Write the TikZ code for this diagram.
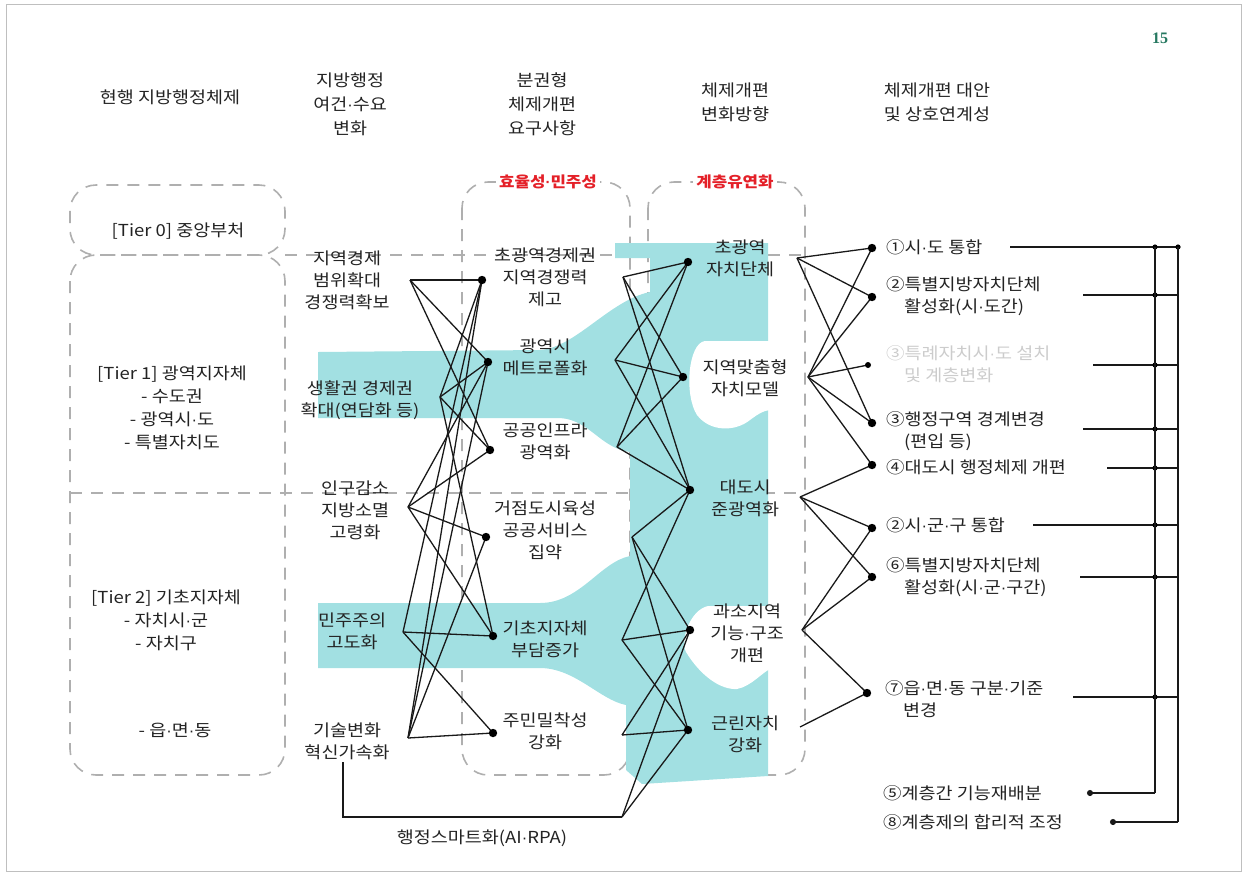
\documentclass[tikz,border=0pt]{standalone}
\usepackage{fontspec}
\setmainfont{Noto Sans CJK KR}[FakeStretch=1.12]
\newfontfamily\pagefont{Liberation Serif}
\newfontfamily\dotfont{Liberation Sans}
\newcommand\md{{\dotfont\textperiodcentered}}
\usetikzlibrary{arrows.meta}
\definecolor{bandcyan}{RGB}{162,224,226}
\definecolor{boxgray}{RGB}{175,175,175}
\definecolor{txtgray}{RGB}{35,35,35}
\definecolor{pagegreen}{RGB}{38,120,96}
\definecolor{keyred}{RGB}{228,32,40}

\begin{document}
\begin{tikzpicture}[x=1pt,y=-1pt,
  lbl/.style={align=center,inner sep=0pt,text=txtgray,font=\fontsize{16.5}{22}\selectfont},
  alt/.style={align=left,anchor=west,inner sep=0pt,text=txtgray,font=\fontsize{16.5}{22}\selectfont},
  hdr/.style={lbl,font=\fontsize{16.5}{24}\selectfont},
  keylbl/.style={fill=white,inner sep=3pt,text=keyred,font=\fontsize{15}{18}\selectfont\bfseries},
  link/.style={line width=1.3pt,black!90},
  dashbox/.style={draw=boxgray,line width=1.6pt,dash pattern=on 12pt off 9pt,rounded corners=26pt},
  dashline/.style={draw=boxgray,line width=1.6pt,dash pattern=on 12pt off 9pt}]
\useasboundingbox (0,0) rectangle (1247,876);
\draw[gray!50,line width=0.8pt] (6,4) rectangle (1241,871);

% page number
\node[font=\pagefont\bfseries\fontsize{16}{18}\selectfont,text=pagegreen] (pg) at (1160,38) {15};

% dashed frames and tier lines
\draw[dashbox] (70,185) rectangle (285,255);
\draw[dashbox] (70,255) rectangle (285,775);
\draw[dashline] (285,255) -- (805,255);
\draw[dashline] (70,493) -- (805,493);
\draw[dashbox] (462,182) rectangle (630,775);
\draw[dashbox] (648,182) rectangle (805,775);

% cyan flow
\fill[bandcyan] (615,243) -- (768,243) -- (768,776) -- (642,784) -- (626,770) -- (626,705)
  .. controls (600,700) and (575,668) .. (540,668) -- (318,668) -- (318,603) -- (540,603)
  .. controls (580,603) and (600,562) .. (630,556) -- (630,452)
  .. controls (600,448) and (590,420) .. (560,418) -- (318,418) -- (318,352) -- (540,350)
  .. controls (575,348) and (610,300) .. (650,292) -- (650,258) -- (615,258) -- cycle;
\fill[white] (772,341) -- (705,341) .. controls (688,343) and (684,395) .. (697,415)
  .. controls (710,432) and (735,432) .. (750,420) .. controls (758,414) and (764,410) .. (772,410) -- cycle;
\fill[white] (772,606) -- (708,606) .. controls (690,610) and (680,640) .. (686,652)
  .. controls (700,675) and (720,690) .. (737,689) .. controls (752,686) and (762,672) .. (772,668) -- cycle;

% junctions
\coordinate (a1) at (410,280);
\coordinate (a2) at (440,397);
\coordinate (a3) at (408,507);
\coordinate (a4) at (403,632);
\coordinate (a5) at (408,738);
\coordinate (b1) at (482,280);
\coordinate (b2) at (488,362);
\coordinate (b3) at (490,450);
\coordinate (b4) at (486,537);
\coordinate (b5) at (493,636);
\coordinate (b6) at (493,733);
\coordinate (c1) at (623,277);
\coordinate (c2) at (615,360);
\coordinate (c3) at (617,447);
\coordinate (c4) at (632,537);
\coordinate (c5) at (622,640);
\coordinate (c6) at (622,735);
\coordinate (d1) at (688,262);
\coordinate (d2) at (683,377);
\coordinate (d3) at (690,490);
\coordinate (d4) at (690,630);
\coordinate (d5) at (688,730);
\coordinate (e1) at (797,258);
\coordinate (e2) at (808,377);
\coordinate (e3) at (800,497);
\coordinate (e4) at (802,630);
\coordinate (e5) at (800,727);
\coordinate (f1) at (872,248);
\coordinate (f2) at (872,297);
\coordinate (f3) at (868,365);
\coordinate (f4) at (872,423);
\coordinate (f5) at (872,465);
\coordinate (f6) at (872,528);
\coordinate (f7) at (872,577);
\coordinate (f8) at (867,693);
\coordinate (sm0) at (343,762);
\coordinate (s) at (622,817);

% links
\foreach \s/\t in {a1/b1,a1/b2,a1/b3,a2/b1,a2/b2,a2/b3,a2/b5,a3/b2,a3/b3,a3/b4,a3/b5,
  a4/b1,a4/b5,a4/b6,a5/b1,a5/b2,a5/b4,a5/b6}
  \draw[link] (\s) -- (\t);
\foreach \s/\t in {c1/d1,c1/d2,c1/d3,c2/d1,c2/d2,c2/d3,c3/d1,c3/d2,c3/d3,
  c4/d3,c4/d4,c4/d5,c5/d3,c5/d4,c5/d5,c6/d4,c6/d5,s/d4,s/d5}
  \draw[link] (\s) -- (\t);
\foreach \s/\t in {e1/f1,e1/f2,e1/f4,e2/f1,e2/f2,e2/f3,e2/f4,e2/f5,e3/f5,e3/f6,e3/f7,
  e4/f6,e4/f7,e4/f8,e5/f8}
  \draw[link] (\s) -- (\t);
\draw[link] (sm0) -- (sm0 |- s) -- (s);
\foreach \p in {b1,b2,b3,b4,b5,b6,d1,d2,d3,d4,d5,f1,f2,f4,f5,f6,f7,f8}
  \fill (\p) circle (4.2pt);
\fill (f3) circle (3pt);

% right bus
\coordinate (busA) at (1155,247);
\coordinate (busB) at (1178,247);
\coordinate (r1) at (1010,247);
\coordinate (r2) at (1083,295);
\coordinate (r3) at (1093,365);
\coordinate (r4) at (1083,429);
\coordinate (r5) at (1107,468);
\coordinate (r6) at (1033,525);
\coordinate (r7) at (1080,577);
\coordinate (r8) at (1073,697);
\coordinate (q9) at (1087,793);
\coordinate (q10) at (1110,822);
\foreach \r in {r1,r2,r3,r4,r5,r6,r7,r8}{
  \draw[link] (\r) -- (\r -| busB);
  \fill (\r -| busA) circle (2.6pt);
}
\fill (r1 -| busB) circle (2.6pt);
\draw[link] (busA) -- (busA |- q9);
\draw[link] (busB) -- (busB |- q10);
\draw[link,-{Circle[length=6pt]}] (q9 -| busA) -- (q9);
\draw[link,-{Circle[length=6pt]}] (q10 -| busB) -- (q10);

% headers
\node[hdr] (h1) at (170,97) {현행 지방행정체제};
\node[hdr] (h2) at (350,104) {지방행정\\여건\md{}수요\\변화};
\node[hdr] (h3) at (542,104) {분권형\\체제개편\\요구사항};
\node[hdr] (h4) at (735,102) {체제개편\\변화방향};
\node[hdr] (h5) at (937,102) {체제개편 대안\\및 상호연계성};
\node[keylbl] (k1) at (548,182) {효율성\md{}민주성};
\node[keylbl] (k2) at (735,182) {계층유연화};

% tiers
\node[lbl] (t0) at (178,231) {[Tier 0] 중앙부처};
\node[lbl,font=\fontsize{16.5}{23}\selectfont] (t1) at (172,408) {[Tier 1] 광역지자체\\- 수도권\\- 광역시\md{}도\\- 특별자치도};
\node[lbl,font=\fontsize{16.5}{23}\selectfont] (t2) at (166,620) {[Tier 2] 기초지자체\\- 자치시\md{}군\\- 자치구};
\node[lbl] (t3) at (175,730) {- 읍\md{}면\md{}동};

% needs
\node[lbl] (n21) at (347,280) {지역경제\\범위확대\\경쟁력확보};
\node[lbl] (n22) at (360,400) {생활권 경제권\\확대(연담화 등)};
\node[lbl] (n23) at (355,510) {인구감소\\지방소멸\\고령화};
\node[lbl] (n24) at (352,631) {민주주의\\고도화};
\node[lbl] (n25) at (347,741) {기술변화\\혁신가속화};

% requirements
\node[lbl] (n31) at (545,277) {초광역경제권\\지역경쟁력\\제고};
\node[lbl] (n32) at (545,357) {광역시\\메트로폴화};
\node[lbl] (n33) at (545,441) {공공인프라\\광역화};
\node[lbl] (n34) at (545,530) {거점도시육성\\공공서비스\\집약};
\node[lbl] (n35) at (545,639) {기초지자체\\부담증가};
\node[lbl] (n36) at (545,731) {주민밀착성\\강화};

% directions
\node[lbl] (n41) at (740,258) {초광역\\자치단체};
\node[lbl] (n42) at (745,378) {지역맞춤형\\자치모델};
\node[lbl] (n43) at (745,498) {대도시\\준광역화};
\node[lbl] (n44) at (747,633) {과소지역\\기능\md{}구조\\개편};
\node[lbl] (n45) at (745,734) {근린자치\\강화};

% alternatives
\node[alt] (m1) at (886,247) {①시\md{}도 통합};
\node[alt] (m2) at (886,296) {②특별지방자치단체\\\hspace*{18pt}활성화(시\md{}도간)};
\node[alt,text=gray!40] (m3) at (886,364) {③특례자치시\md{}도 설치\\\hspace*{18pt}및 계층변화};
\node[alt] (m4) at (886,431) {③행정구역 경계변경\\\hspace*{18pt}(편입 등)};
\node[alt] (m5) at (886,467) {④대도시 행정체제 개편};
\node[alt] (m6) at (886,525) {②시\md{}군\md{}구 통합};
\node[alt] (m7) at (886,577) {⑥특별지방자치단체\\\hspace*{18pt}활성화(시\md{}군\md{}구간)};
\node[alt] (m8) at (885,699) {⑦읍\md{}면\md{}동 구분\md{}기준\\\hspace*{18pt}변경};
\node[alt] (m9) at (883,793) {⑤계층간 기능재배분};
\node[alt] (m10) at (883,822) {⑧계층제의 합리적 조정};

\node[lbl] (sm) at (482,838) {행정스마트화(AI\md{}RPA)};
\end{tikzpicture}
\end{document}
